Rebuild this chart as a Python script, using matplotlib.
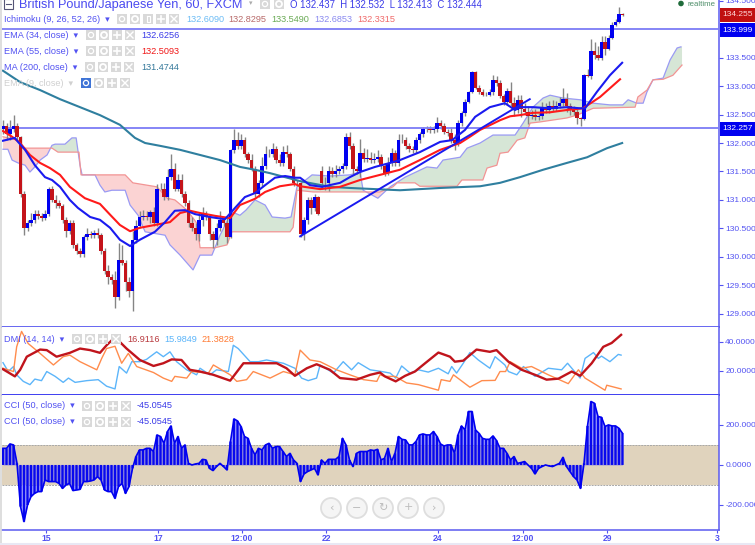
import numpy as np
import matplotlib
matplotlib.use("Agg")
import matplotlib.pyplot as plt
from matplotlib.patches import Rectangle, Circle

plt.rcParams['font.family'] = ['Liberation Sans', 'DejaVu Sans']

closes = [132.30,132.15,132.25,132.30,132.10,131.10,130.50,130.60,130.65,130.75,
 130.72,130.68,130.75,131.20,131.00,130.95,130.90,130.65,130.45,130.60,
 130.20,130.10,130.05,130.35,130.40,130.38,130.42,130.38,130.10,129.75,
 129.65,129.60,129.30,129.95,129.90,129.55,129.40,130.30,130.55,130.70,
 130.72,130.70,130.78,130.60,131.20,131.20,131.05,131.40,131.55,131.20,
 131.35,131.10,130.95,130.60,130.50,130.40,130.65,130.75,130.70,130.40,
 130.30,130.50,130.65,130.60,130.35,131.88,132.05,131.95,132.05,131.80,
 131.70,131.55,131.10,131.30,131.60,131.80,131.80,131.90,131.70,131.65,
 131.85,131.80,131.55,131.30,131.30,130.40,130.65,131.00,130.85,131.05,
 130.75,131.30,131.30,131.50,131.45,131.50,131.55,131.60,132.10,131.95,
 131.55,131.50,131.82,131.72,131.74,131.70,131.72,131.75,131.60,131.47,
 131.65,131.82,131.65,132.05,132.05,131.95,131.90,131.88,132.05,132.15,
 132.24,132.25,132.22,132.25,132.35,132.30,132.20,132.18,132.05,132.00,
 132.35,132.52,132.72,132.90,133.25,132.97,132.90,132.85,132.85,132.90,
 133.10,133.05,132.82,132.72,132.92,132.70,132.58,132.75,132.60,132.55,
 132.48,132.50,132.45,132.48,132.62,132.58,132.65,132.60,132.65,132.70,
 132.78,132.65,132.60,132.55,132.44,132.42,133.20,133.18,133.62,133.55,
 133.50,133.78,133.65,133.85,134.08,134.13,134.27,134.255]
first_open = 132.25
open_overrides = {91: 131.50}
upper_wicks = [.1,.05,.15,.2,.05,.03,.05,.05,.12,.08,
 .08,.05,.08,.03,.05,.08,.05,.03,.05,.05,
 .05,.05,.05,.03,.1,.05,.05,.08,.03,.05,
 .1,.05,.15,.3,.25,.05,.1,.15,.1,.1,
 .1,.08,.05,.1,.08,.1,.1,.15,.25,.1,
 .1,.1,.05,.05,.1,.1,.12,.12,.05,.05,
 .05,.1,.15,.05,.1,.02,.2,.15,.1,.05,
 .05,.1,.05,.05,.15,.15,.1,.1,.05,.1,
 .1,.12,.05,.05,.05,.02,.05,.05,.05,.05,
 .02,.1,.1,.1,.08,.12,.05,.05,.08,.1,
 .05,.05,.25,.1,.15,.1,.1,.12,.05,.05,
 .1,.1,.05,.1,.1,.05,.05,.05,.05,.05,
 .05,.05,.05,.05,.1,.05,.05,.05,.1,.1,
 .05,.05,.05,.02,.02,.02,.05,.05,.05,.05,
 .1,.08,.05,.05,.05,.15,.1,.1,.1,.1,
 .1,.08,.1,.05,.1,.08,.08,.1,.08,.1,
 .18,.1,.05,.05,.05,.02,.02,.1,.2,.15,
 .15,.1,.1,.05,.05,.05,.12,.02]
lower_wicks = [.1,.1,.1,.05,.05,.05,.12,.05,.05,.05,
 .05,.05,.03,.03,.03,.1,.05,.05,.1,.05,
 .05,.05,.05,.05,.05,.05,.05,.05,.05,.05,
 .12,.08,.2,.05,.05,.15,.1,.35,.05,.05,
 .05,.05,.1,.05,.05,.03,.05,.05,.05,.05,
 .05,.05,.05,.08,.05,.1,.12,.1,.05,.1,
 .15,.1,.05,.05,.1,.02,.05,.05,.05,.05,
 .05,.05,.05,.05,.05,.05,.05,.05,.05,.05,
 .05,.05,.05,.05,.05,.05,.1,.08,.1,.05,
 .02,.1,.12,.15,.05,.05,.05,.08,.05,.05,
 .1,.05,.1,.05,.05,.05,.05,.05,.05,.05,
 .03,.05,.05,.05,.05,.05,.05,.05,.05,.05,
 .05,.05,.05,.05,.05,.05,.05,.05,.05,.12,
 .05,.05,.05,.02,.02,.02,.03,.03,.03,.03,
 .05,.05,.03,.05,.05,.05,.1,.05,.15,.05,
 .15,.05,.05,.05,.05,.05,.05,.03,.03,.03,
 .05,.1,.1,.05,.1,.12,.02,.02,.05,.08,
 .05,.05,.1,.02,.02,.02,.02,.02]

ema34_t = [0,2,3.4,4.3,6.3,9.1,12,14,16.3,19.1,21.4,24.9,27.7,30.6,33.4,36.3,39.1,43.4,46.3,49.1,52,54.9,59.1,63.4,66.3,69.1,72,74.9,77.7,80.6,83.4,84.9,87.7,91.1,96.3,99.1,102,106.3,110.6,113.4,119.1,124.9,128.3,132,134.9,139.1,143.4,146.3,147.7,151.4,156.3,161.1,164.9,166.3,169.7,173.4,176.9]
ema34_v = [132.04,132.07,132.09,132.02,131.88,131.61,131.40,131.35,131.23,131.0,130.86,130.70,130.65,130.51,130.30,130.19,130.30,130.44,130.61,130.81,130.82,130.75,130.70,130.66,130.86,131.05,131.12,131.26,131.39,131.42,131.39,131.39,131.26,131.23,131.30,131.40,131.49,131.58,131.65,131.70,131.84,132.02,132.05,132.23,132.46,132.63,132.70,132.58,132.63,132.63,132.61,132.63,132.61,132.61,132.90,133.19,133.41]
ema55_t = [0,2.6,4.9,7.7,10.6,13.4,16.3,19.1,23.4,27.7,30.6,33.4,36.3,39.1,43.4,47.7,50.6,53.4,56.3,60.6,64.9,67.7,72,74.9,79.1,83.4,84.9,90.6,96.3,102,107.7,113.4,119.1,124.9,130.6,133.4,136.3,142,144.9,147.7,151.4,156.3,161.1,165.7,170.6,176.3]
ema55_v = [132.21,132.11,132.0,131.79,131.65,131.56,131.44,131.23,131.03,130.93,130.74,130.56,130.45,130.51,130.56,130.61,130.77,130.81,130.77,130.72,130.68,130.91,131.02,131.14,131.24,131.28,131.24,131.19,131.23,131.35,131.44,131.53,131.70,131.88,132.0,132.11,132.23,132.40,132.47,132.49,132.53,132.54,132.58,132.61,132.81,133.12]
ma200_t = [0,4.9,10.6,16.3,22,27.7,33.4,37.7,40.6,44.9,50.6,56.3,62,67.7,72,76.3,80.6,84.9,93.4,99.1,113.4,124.9,136.3,142,147.7,154.3,161.1,166.9,172.6,176.9]
ma200_v = [133.27,133.07,132.93,132.77,132.63,132.49,132.32,132.09,132.0,131.95,131.88,131.79,131.70,131.58,131.53,131.47,131.40,131.33,131.23,131.21,131.17,131.21,131.24,131.30,131.40,131.53,131.65,131.75,131.91,132.0]
lead_a_t = [0,1.4,2.6,4.3,6.3,7.7,9.1,10.6,12.6,14,14.9,17.7,19.7,20.9,22,22.6,26.3,27.7,29.1,31.1,34.9,36.3,38.6,40.6,46.3,47.7,50.6,54.3,56.3,59.7,62,65.4,67.7,69.4,72,74.9,76.9,80.6,82.3,84,88.3,93.4,99.1,102,102.9,107.1,110.6,114.9,121.1,124,125.7,130.6,132.6,136.3,140,142,146.3,148.6,151.4,154.3,156.3,160,164.9,168.6,173.4,177.1,178.6,181.1,182.9,184,185.7,188.6,190.6,192.6,193.7]
lead_a_v = [131.89,131.89,131.70,131.65,131.61,131.49,131.58,131.70,131.79,131.96,131.98,131.98,132.09,132.09,131.61,131.44,131.44,131.26,131.14,131.17,131.17,130.91,130.73,130.44,130.38,130.21,130.03,129.77,130.03,130.03,130.38,130.79,130.73,130.82,131.0,130.91,130.70,130.68,130.70,131.23,131.44,131.42,131.44,131.49,131.17,131.03,131.23,131.40,131.58,131.56,131.70,131.75,131.91,132.0,132.14,132.14,132.14,132.35,132.63,132.79,132.84,132.79,132.76,132.70,132.67,132.67,132.76,132.70,132.70,132.90,133.11,133.14,133.46,133.67,133.69]
lead_b_t = [0,4.3,5.4,14,15.7,21.7,22.3,34.9,37.1,44,46.9,49.1,52.6,55.4,56.3,60.6,64,65.4,82,82.9,84,88.6,102,107.7,111.4,112.6,117.7,119.1,129.7,131.1,137.1,138.3,141.1,142,144.3,146.9,149.1,150.6,153.4,161.1,164,168.6,180.6,181.4,184,185.7,188.6,191.4,194]
lead_b_v = [132.11,132.05,131.91,131.91,131.84,131.84,131.44,131.44,131.30,131.23,131.03,131.0,130.82,130.59,130.16,130.16,130.21,130.44,130.44,130.52,131.17,131.14,131.14,131.14,131.23,131.30,131.30,131.24,131.24,131.35,131.35,131.56,131.61,131.82,131.84,132.05,132.09,132.35,132.37,132.44,132.49,132.61,132.63,132.81,132.93,133.11,133.12,133.19,133.37]
trend_t = [84.9, 150.5]
trend_v = [130.36, 132.77]
hlines = [133.999, 132.257]

adx_t = [0,3.4,4.9,6.8,10.6,12.5,15.3,19.1,22,24.9,27.7,29.6,32,35.3,39.1,43,45.8,48.2,51,53.4,56.3,60.1,64.9,68.7,72.5,78.2,81,83.4,86.8,89.6,93.4,96.3,101,104.9,107.7,109.1,112.2,114.9,117.7,120.6,124.4,127.7,129.1,131.5,135.3,139.1,141,144.4,148.2,152,155.3,158.7,162.5,164.9,168.2,171.5,173.9,176.6]
adx_v = [20.9,15.9,20.5,29.7,34.7,34.3,29.7,32.4,35.4,34.3,32.4,37.7,43.4,35.4,27.4,23.2,25.1,27.8,27.4,20.5,19.3,17,12.9,25.1,25.1,25.1,21.6,16.3,21.6,24.4,20.5,14.7,13.6,17,18.6,15.9,12.4,16.3,19.3,25.1,32.6,29.7,26.2,26.9,34.7,33.1,34.3,26.2,20.5,17,13.6,14.3,19.3,16.3,25.1,36.6,39.3,45]
diplus_t = [0,1.5,3,3.9,5.8,7.7,9.1,11,12.5,14.9,17.2,18.7,20.6,23.9,27.2,29.6,32,33.2,35.3,36.8,39.1,41,43.9,45.8,47.7,49.6,52.5,55.3,56.3,59.1,61,64.4,65.8,67.2,70.6,73,75.3,80.1,83.4,85.3,87.2,89.6,90.6,94.4,97.2,99.6,101.5,104.9,106.3,108.2,110.6,112.2,113.9,116.3,118.7,121.5,124.4,127.2,128.2,129.6,131.5,133.4,135.8,139.1,140.6,143.4,144.4,146.8,148.7,152,155.8,159.6,161.3,164.9,166.3,168.7,170.1,171,173.4,175.8,176.6]
diplus_v = [25.5,19.3,22.8,17,12.4,10.1,14,12.9,19.3,15.9,11.7,14.7,11.7,12.9,13.6,9,7.1,22.8,18.2,26.2,26.2,27.8,33.1,29.7,33.1,26.2,20.5,17,21.6,17,20.5,19.3,37.7,35.4,26.2,26.2,27.4,25.1,21.6,14.7,12.9,14.7,23.9,18.2,26.2,20.5,25.5,20.5,20,19.3,18.2,14.7,23.2,18.2,20.5,18.9,21.6,17.7,22.8,18.2,25.1,32.6,27.4,21.6,29.7,23.9,19.3,17,22.8,15.9,21.6,20.5,25.1,14.7,28.5,32.6,28.5,30.1,26.2,31.3,30.8]
diminus_t = [0,3,3.9,5.3,7.2,10.6,14.4,17.2,19.1,22,26.8,28.2,29.6,32,33.9,35.8,38.2,43,45.8,48.2,49.1,52.5,53.9,58.7,60.1,64.9,66.8,69.6,71.5,76.3,80.1,83.4,84.9,87.7,90.6,95.3,99.1,103,106.8,107.7,109.1,112,115.3,118.7,124.4,125.2,127.7,128.7,133.4,136.8,140.6,142,143.6,144.9,148.2,151,155.8,161.5,164.4,166.3,172,172.5,176.6]
diminus_v = [21.6,19.3,36.6,47.4,38.9,32,23.9,29.7,30.8,26.2,20.5,28.5,35.4,37,25.1,32,22.8,18.6,14.7,12.4,15.9,14.7,19.3,18.2,23.9,17,12.4,13.6,19.3,14.7,19.3,17,34.3,27.4,26.2,20.5,17,13.6,12.4,17,15.9,15.9,11.3,10.1,6.2,13.6,12.4,17,8.3,12.9,13.1,19.3,19.3,26.2,21.6,22.8,17,10.8,20.5,14.7,6.2,9.7,7.1]

cci = [83,83,105,100,8,-208,-283,-200,-158,-142,-133,-133,-75,-83,-83,-83,-92,-117,-100,-92,
 -128,-125,-122,-83,-83,-80,-75,-58,-75,-125,-133,-133,-167,-108,-92,-142,-108,-17,42,75,
 75,83,83,67,150,142,108,167,195,108,142,83,100,8,0,5,8,28,25,-17,
 -28,-8,8,-8,-25,117,230,220,192,142,133,83,50,83,75,100,108,83,92,92,
 67,42,58,25,8,-83,-45,-33,-25,-17,-50,25,8,28,28,28,42,133,100,25,
 -8,58,67,67,67,75,72,78,25,33,83,17,58,142,128,125,100,100,117,150,
 155,150,150,167,142,105,95,100,100,58,150,195,175,267,267,175,158,133,128,128,
 145,122,83,83,58,25,42,8,12,17,0,-17,-45,-17,-8,0,-5,-8,0,8,
 38,-8,-33,-58,-75,-117,8,195,317,308,242,238,192,200,195,195,183,158]

price_ticks = [129.0,129.5,130.0,130.5,131.0,131.5,132.0,132.5,133.0,133.5,134.5]
dmi_ticks = [20, 40]
cci_ticks = [-200, 0, 200]
time_ticks = [12.3, 44.3, 68.3, 92.3, 124.3, 148.6, 172.6, 204]
time_labels = ['15','17','12:00','22','24','12:00','29','3']

BLUE = '#0000f0'; RED = '#c4141a'; TXT = '#5252f2'; EDGE = '#5a5af0'
W, H = 755, 545
fig = plt.figure(figsize=(W/100, H/100), dpi=100, facecolor='white')

def panel(top, bottom):
    return fig.add_axes([2/W, 1-bottom/H, 717/W, (bottom-top)/H])

ax = panel(0, 327); adm = panel(327, 394.5); acc = panel(394.5, 530)
xlim = (-0.286, 204.57)
for a in (ax, adm, acc):
    a.set_xlim(*xlim)
    a.yaxis.tick_right()
    a.tick_params(axis='y', colors=TXT, labelsize=6.0, length=3, width=.8, pad=1.5)
    a.tick_params(axis='x', length=0, labelbottom=False)
    a.spines['left'].set_visible(False)
    for s in ('top','bottom','right'):
        a.spines[s].set_color(EDGE); a.spines[s].set_linewidth(1.1)
    a.spines['top'].set_visible(False)
ax.spines['bottom'].set_linewidth(1.3)
adm.spines['bottom'].set_color('#2f2ff0'); adm.spines['bottom'].set_linewidth(1.3)

# ---- price panel
ax.set_ylim(128.767, 134.513)
ax.set_yticks(price_ticks); ax.set_yticklabels([f'{v:.3f}' for v in price_ticks])

t = np.arange(len(closes))
c = np.array(closes)
o = np.r_[first_open, c[:-1]]
for k, v in open_overrides.items():
    o[k] = v
hi = np.maximum(o, c) + np.array(upper_wicks)
lo = np.minimum(o, c) - np.array(lower_wicks)

grid = np.linspace(0, 194, 1941)
A = np.interp(grid, lead_a_t, lead_a_v); B = np.interp(grid, lead_b_t, lead_b_v)
ax.fill_between(grid, A, B, where=A >= B, color='#d6e6d6', lw=0, zorder=1, interpolate=True)
ax.fill_between(grid, A, B, where=A <= B, color='#fbd3d3', lw=0, zorder=1, interpolate=True)
ax.plot(lead_a_t, lead_a_v, color='#9a9af4', lw=.9, zorder=2)
ax.plot(lead_b_t, lead_b_v, color='#f29494', lw=.9, zorder=2)

ax.vlines(t, lo, hi, color='#858585', lw=1.0, zorder=3)
up = c >= o
ax.bar(t[up], (c-o)[up], bottom=o[up], width=.86, color=BLUE, lw=0, zorder=4)
ax.bar(t[~up], (c-o)[~up], bottom=o[~up], width=.86, color=RED, lw=0, zorder=4)

for v in hlines:
    ax.axhline(v, color='#7c7cf6', lw=1.3, zorder=3)
ax.plot(ma200_t, ma200_v, color='#2f7f9f', lw=1.5, zorder=5)
ax.plot(ema55_t, ema55_v, color='#ff1a1a', lw=1.5, zorder=5)
ax.plot(ema34_t, ema34_v, color='#1a1af0', lw=1.5, zorder=6)
ax.plot(trend_t, trend_v, color='#1a1af0', lw=1.4, zorder=6)

# ---- DMI panel
adm.set_ylim(3.2, 50.5)
adm.set_yticks(dmi_ticks); adm.set_yticklabels([f'{v:.4f}' for v in dmi_ticks])
adm.plot(diplus_t, diplus_v, color='#5cb5fa', lw=1.0)
adm.plot(diminus_t, diminus_v, color='#ff8c4d', lw=1.0)
adm.plot(adx_t, adx_v, color='#c0141c', lw=1.7)

# ---- CCI panel
acc.set_ylim(-325, 352)
acc.set_yticks(cci_ticks); acc.set_yticklabels([f'{v:.4f}' for v in cci_ticks])
acc.axhspan(-100, 100, color='#e0d3bd', lw=0, zorder=1)
for v in (-100, 100):
    acc.axhline(v, color='#a8a8a8', lw=.7, ls=(0, (2, 1)), zorder=2)
cci_bars = acc.bar(np.arange(len(cci)), cci, width=.66, color='#0808ee', lw=0, zorder=3)
for b in cci_bars:
    b.set_snap(False)
acc.fill_between(np.arange(len(cci)), cci, 0, color='#5a5af2', alpha=.55, lw=0, zorder=2.5)
acc.plot(np.arange(len(cci)), cci, color=BLUE, lw=1.2, zorder=3)
acc.set_xticks(time_ticks); acc.set_xticklabels(time_labels)
acc.tick_params(axis='x', length=2, width=.8, colors=TXT, labelbottom=True, labelsize=6.2, pad=1)
for lab in acc.get_xticklabels():
    lab.set_fontweight('bold')

# ---- chrome, in a transparent overlay
ov = fig.add_axes([0, 0, 1, 1], facecolor='none', zorder=10)
ov.set_xlim(0, W); ov.set_ylim(H, 0); ov.axis('off')
ov.plot([1, 1], [0, 545], color='#d8d8d8', lw=1.2)
ov.plot([0, 755], [543.8, 543.8], color='#e8e8f4', lw=1.5)

def btn(x, y, kind, bg='#d9d9d9', fg='white'):
    ov.add_patch(Rectangle((x-5, y-5), 10, 10, color=bg, lw=0))
    if kind == 'eye':
        ov.add_patch(Circle((x, y), 2.6, fill=False, ec=fg, lw=.9))
    elif kind == 'gear':
        ov.add_patch(Circle((x, y), 3, fill=False, ec=fg, lw=1.3))
    elif kind == 'bar':
        ov.plot([x-1.5, x+1.5, x+1.5, x-1.5, x-1.5], [y-3, y-3, y+3, y+3, y-3], color=fg, lw=.8)
    elif kind == 'plus':
        ov.plot([x-3, x+3], [y, y], color=fg, lw=1.2); ov.plot([x, x], [y-3, y+3], color=fg, lw=1.2)
    elif kind == 'x':
        ov.plot([x-3, x+3], [y-3, y+3], color=fg, lw=1); ov.plot([x-3, x+3], [y+3, y-3], color=fg, lw=1)

def row(y, label, x0, kinds, values, color=TXT, first_blue=False):
    ov.text(4, y, label, fontsize=6.6, color=color, va='center', ha='left')
    for j, kd in enumerate(kinds):
        btn(x0 + 13*j, y, kd, bg='#3f74d6' if (first_blue and j == 0) else '#d9d9d9')
    for vx, vt, vc in values:
        ov.text(vx, y, vt, fontsize=6.6, color=vc, va='center', ha='left')

K4 = ['eye','gear','plus','x']
ov.add_patch(Rectangle((3.5, -1), 9, 10, fill=False, ec='#555577', lw=.8))
ov.plot([5.5, 10.5], [4, 4], color='#555577', lw=.8)
ov.text(19, 8, 'British Pound/Japanese Yen, 60, FXCM', fontsize=9.2, color='#4a4af0', va='baseline', ha='left')
ov.text(249, 4, '▾', fontsize=5, color='#aaaaaa', va='center')
btn(265, 4, 'eye'); btn(279, 4, 'gear')
ov.text(290, 8, 'O 132.437  H 132.532  L 132.413  C 132.444', fontsize=6.9, color='#3a3ae8', va='baseline', ha='left')
ov.add_patch(Circle((681, 3.5), 2.8, color='#1f6b3a', lw=0))
ov.text(687, 4, 'realtime', fontsize=5.6, color='#4f8f6a', va='center', ha='left')

row(19, 'Ichimoku (9, 26, 52, 26)  ▾', 122, ['eye','gear','bar','plus','x'],
    [(186,'132.6090','#6cbcf5'),(228,'132.8295','#b86a6a'),(271,'133.5490','#6aaa55'),(314,'132.6853','#8a8af0'),(357,'132.3315','#f06a6a')])
row(35, 'EMA (34, close)  ▾', 91, K4, [(141,'132.6256','#3a3ae8')])
row(51, 'EMA (55, close)  ▾', 91, K4, [(141,'132.5093','#f01818')])
row(67, 'MA (200, close)  ▾', 90, K4, [(141,'131.4744','#34789a')])
row(83, 'EMA (9, close)  ▾', 86, K4, [], color='#d0d0d0', first_blue=True)
row(339, 'DMI (14, 14)  ▾', 77, K4, [(127,'16.9116','#b83a3f'),(164,'15.9849','#5cb5fa'),(201,'21.3828','#ff7a33')])
row(406, 'CCI (50, close)  ▾', 87, K4, [(137,'-45.0545','#3a3ae8')])
row(422, 'CCI (50, close)  ▾', 87, K4, [(137,'-45.0545','#3a3ae8')])

for y, lab, bg in [(15, '134.255', '#c01010'), (30, '133.999', '#0000f0'), (128.5, '132.257', '#0000f0')]:
    ov.add_patch(Rectangle((720, y-7), 35, 14, color=bg, lw=0))
    ov.text(737.5, y, lab, fontsize=6.0, color='white' if bg != '#c01010' else '#ffd8d8', va='center', ha='center')

for x, g in zip([331, 357, 383, 408, 434], ['‹', '−', '↻', '+', '›']):
    ov.add_patch(Circle((x, 508), 10, fc='#f5f5f5', ec='#dedede', lw=1.3))
    ov.text(x, 507.5, g, fontsize=8, color='#bcbcbc', va='center', ha='center', family=['DejaVu Sans'])

fig.savefig('out.png', dpi=100)
